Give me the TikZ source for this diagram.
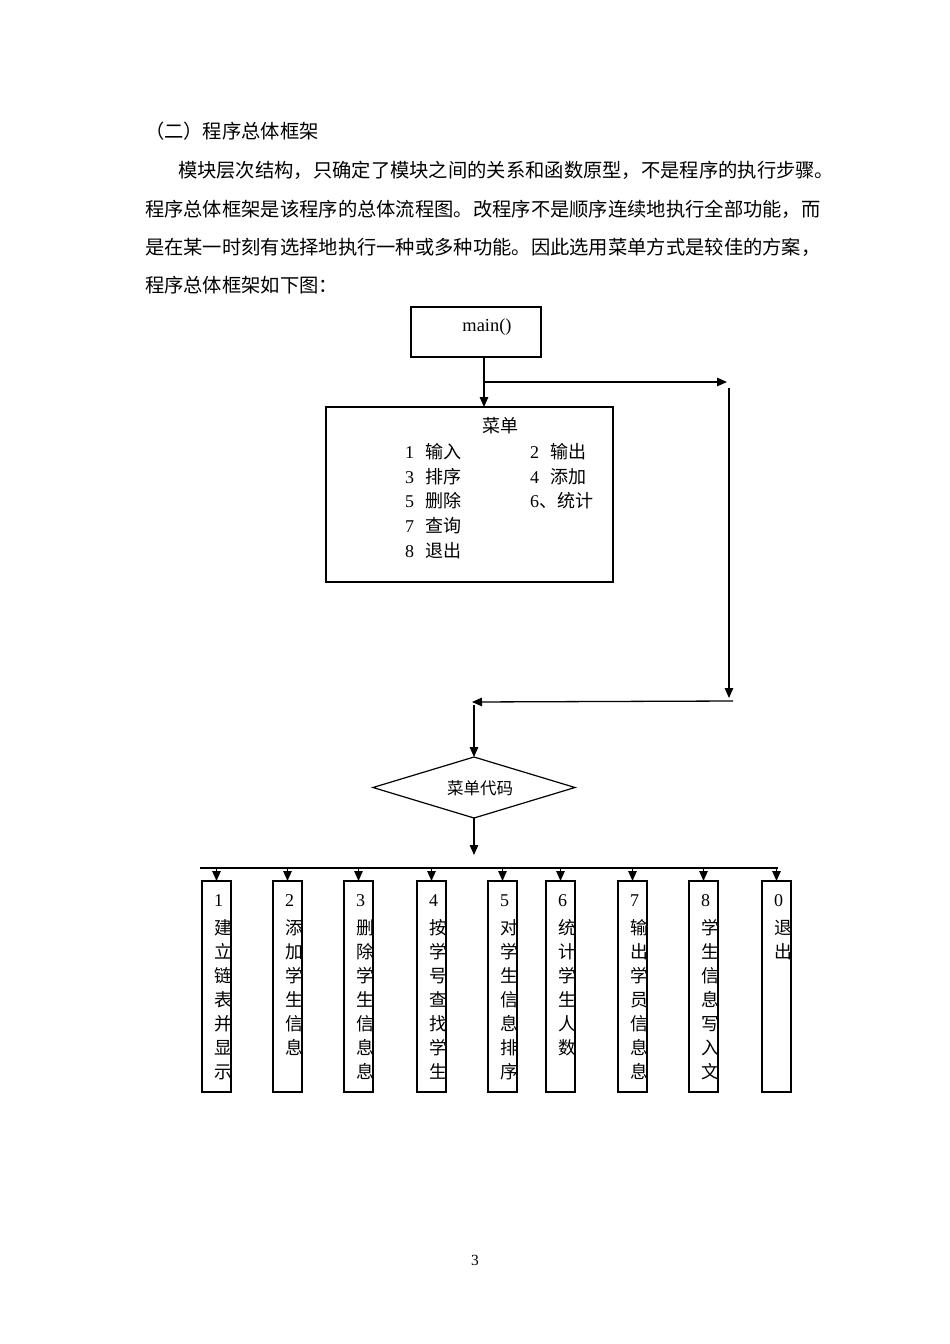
\documentclass[tikz,border=0pt]{standalone}
\usepackage{fontspec}
\setmainfont{Liberation Serif}
\newfontfamily\cjk{Noto Sans CJK SC}
\usetikzlibrary{arrows.meta,shapes.geometric}
\XeTeXlinebreaklocale "zh"
\XeTeXlinebreakskip=0pt plus 4pt minus 1pt
\tikzset{
 every node/.style={inner sep=0pt, outer sep=0pt},
 arr/.style={-{Triangle[length=10pt,width=8.5pt]}, line width=1.3pt},
 flow/.style={line width=1.3pt},
 frame/.style={draw, line width=1.3pt},
 shadowedge/.style={line width=2.6pt},
 colbox/.style={draw, line width=1.2pt, minimum width=29pt, minimum height=211pt},
 thickbox/.style={colbox, line width=2pt},
 body/.style={anchor=base west, font=\cjk\fontsize{19.3}{19.3}\selectfont},
 menuitem/.style={anchor=base west, font=\fontsize{18}{18}\selectfont},
 chr/.style={anchor=base west, font=\cjk\fontsize{17.8}{17.8}\selectfont},
 digit/.style={anchor=base west, font=\fontsize{18}{18}\selectfont},
}
\newcommand\vcol[5]{%
 \node[#3] (#1) at (#2+14.5,986.5) {};
 \coordinate (#1-bus) at (#2+14.5,868);
 \draw[arr] (#1-bus) -- (#1.north);
 \node[digit] (#1-d) at (#2+12,906) {#4};
 \foreach \c [count=\i] in {#5} {\node[chr] (#1-\i) at (#2+12,910.5+24*\i) {\c};}
}
\begin{document}
\begin{tikzpicture}[x=1pt,y=-1pt]
\useasboundingbox[fill=white] (0,0) rectangle (950,1344);

% heading text
\node[body] (t0) at (145,138) {（二）程序总体框架};
\node[body] (t1) at (178,177) {\makebox[630pt][s]{模块层次结构，只确定了模块之间的关系和函数原型，不是程序的执行步骤。}};
\node[body] (t2) at (145,216) {\makebox[663pt][s]{程序总体框架是该程序的总体流程图。改程序不是顺序连续地执行全部功能，而}};
\node[body] (t3) at (145,254) {\makebox[663pt][s]{是在某一时刻有选择地执行一种或多种功能。因此选用菜单方式是较佳的方案，}};
\node[body] (t4) at (145,292) {程序总体框架如下图：};

% main box
\node[frame, minimum width=130pt, minimum height=50pt] (main) at (476,332) {};
\draw[shadowedge] (main.north east) -- (main.south east);
\node[anchor=base, font=\fontsize{18.4}{18.4}\selectfont] (mainlbl) at (487,331.6) {main()};

% menu box
\node[frame, minimum width=287pt, minimum height=175pt] (menu) at (469.5,494.5) {};
\draw[shadowedge] (menu.north east) -- (menu.south east) -- (menu.south west);
\node[anchor=base, font=\cjk\fontsize{18}{18}\selectfont] (mtitle) at (500,432) {菜单};
\node[menuitem] (m1) at (405,458) {1\hspace{11pt}{\cjk 输入}};
\node[menuitem] (m2) at (530,458) {2\hspace{11pt}{\cjk 输出}};
\node[menuitem] (m3) at (405,483) {3\hspace{11pt}{\cjk 排序}};
\node[menuitem] (m4) at (530,483) {4\hspace{11pt}{\cjk 添加}};
\node[menuitem] (m5) at (405,507.5) {5\hspace{11pt}{\cjk 删除}};
\node[menuitem] (m6) at (530,507.5) {6{\cjk 、统计}};
\node[menuitem] (m7) at (405,532) {7\hspace{11pt}{\cjk 查询}};
\node[menuitem] (m8) at (405,557) {8\hspace{11pt}{\cjk 退出}};

% flow coordinates
\coordinate (br) at (484,382);
\coordinate (c1) at (727,382);
\coordinate (c2) at (729,388);
\coordinate (c3) at (729,698);
\coordinate (c4) at (733,701);
\coordinate (c5) at (472,702);
\coordinate (c6) at (474,705);
\coordinate (c7) at (474,855);
\coordinate (busL) at (200,868);
\coordinate (busR) at (778,868);

\draw[arr] (main.south -| br) -- (menu.north -| br);
\draw[arr] (br) -- (c1);
\draw[arr] (c2) -- (c3);
\draw[arr] (c4) -- (c5);

% diamond
\node[draw, diamond, line width=1.2pt, minimum width=202pt, minimum height=61pt, aspect=3.3] (dia) at (474,787.5) {};
\node[anchor=base, font=\cjk\fontsize{16.5}{16.5}\selectfont] (dlbl) at (480,794) {菜单代码};
\draw[arr] (c6) -- (dia.north);
\draw[arr] (dia.south) -- (c7);

% bus
\draw[flow] (busL) -- (busR);

% columns
\vcol{b1}{202}{thickbox}{1}{建,立,链,表,并,显,示}
\vcol{b2}{273}{colbox}{2}{添,加,学,生,信,息}
\vcol{b3}{344}{thickbox}{3}{删,除,学,生,信,息,息}
\vcol{b4}{417}{colbox}{4}{按,学,号,查,找,学,生}
\vcol{b5}{488}{thickbox}{5}{对,学,生,信,息,排,序}
\vcol{b6}{546}{thickbox}{6}{统,计,学,生,人,数}
\vcol{b7}{618}{colbox}{7}{输,出,学,员,信,息,息}
\vcol{b8}{689}{thickbox}{8}{学,生,信,息,写,入,文}
\vcol{b0}{762}{colbox}{0}{退,出}

% page number
\node[anchor=base, font=\fontsize{15.5}{15.5}\selectfont] (pg) at (475,1265) {3};
\end{tikzpicture}
\end{document}
